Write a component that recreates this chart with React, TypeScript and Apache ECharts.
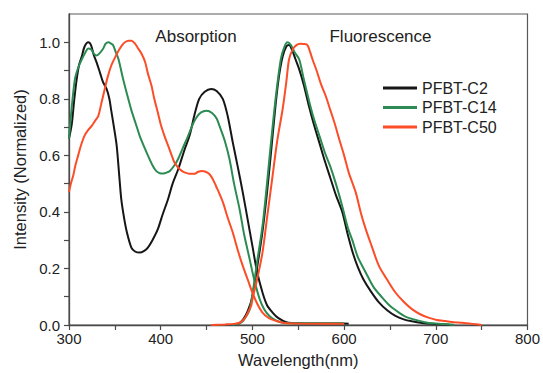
import React, { useEffect, useRef } from "react";
import * as echarts from "echarts";

const FONT = "'Liberation Sans', Arial, sans-serif";

const seriesNames = ["PFBT-C2", "PFBT-C14", "PFBT-C50"];
const seriesColors = ["#161616", "#2b8b52", "#fb4d27"];

const xTickLabels = [300, 400, 500, 600, 700, 800];
const xTicks = [300, 350, 400, 450, 500, 550, 600, 650, 700, 750, 800];
const yTickLabels = [0, 0.2, 0.4, 0.6, 0.8, 1.0];
const yTicks = [0, 0.1, 0.2, 0.3, 0.4, 0.5, 0.6, 0.7, 0.8, 0.9, 1.0];

// PFBT-C2 absorption
const c2AbsWl = [300, 303, 305.5, 308, 311, 314, 317, 321, 324, 327, 330, 334, 337, 341, 344, 346, 349, 352, 355, 357, 360, 363, 368, 372, 377, 382, 386, 391, 397, 402, 408, 413, 419, 426, 431.5, 437, 442, 448, 455, 461, 467.7, 473, 478.6, 484, 489.5, 495, 500, 505, 511, 516, 522, 528, 537, 550, 600, 605];
const c2AbsVal = [0.66, 0.71, 0.79, 0.86, 0.92, 0.95, 0.985, 1.0, 0.99, 0.955, 0.93, 0.89, 0.86, 0.835, 0.8, 0.76, 0.7, 0.634, 0.52, 0.445, 0.38, 0.33, 0.274, 0.26, 0.256, 0.262, 0.274, 0.3, 0.34, 0.39, 0.445, 0.5, 0.55, 0.62, 0.67, 0.745, 0.8, 0.825, 0.835, 0.828, 0.8, 0.74, 0.646, 0.56, 0.469, 0.37, 0.28, 0.19, 0.115, 0.07, 0.044, 0.025, 0.01, 0.006, 0.005, 0.004];

// PFBT-C2 fluorescence
const c2FlWl = [478, 485, 490, 495, 500, 505, 511, 516, 520, 525, 529, 533, 537, 540, 543, 547, 551, 556, 562, 567, 573, 579, 585, 591, 598, 604, 610, 615, 621, 629, 638, 647, 656, 665, 674, 685, 695, 715];
const c2FlVal = [0.0, 0.005, 0.02, 0.05, 0.1, 0.2, 0.33, 0.47, 0.6, 0.77, 0.88, 0.95, 0.985, 0.99, 0.975, 0.94, 0.905, 0.85, 0.77, 0.71, 0.645, 0.58, 0.52, 0.46, 0.4, 0.32, 0.25, 0.205, 0.162, 0.12, 0.08, 0.052, 0.032, 0.02, 0.013, 0.007, 0.004, 0.001];

// PFBT-C14 absorption
const c14AbsWl = [300, 303, 306.5, 310, 314, 318, 321, 324, 327, 330, 333, 337, 340, 343, 346, 348, 351, 354, 359, 363, 368, 373, 377, 382, 386, 391, 395, 399, 403, 407, 410, 415, 419, 424, 430, 435, 439, 444, 450, 456, 461, 464, 470, 475, 480, 486, 491, 497, 502, 508, 513, 518.5, 525, 533, 545, 598, 600];
const c14AbsVal = [0.66, 0.77, 0.87, 0.91, 0.94, 0.965, 0.978, 0.975, 0.96, 0.953, 0.96, 0.976, 0.995, 1.0, 0.995, 0.99, 0.965, 0.94, 0.87, 0.82, 0.76, 0.71, 0.67, 0.63, 0.6, 0.565, 0.545, 0.537, 0.536, 0.54, 0.545, 0.565, 0.587, 0.625, 0.67, 0.71, 0.734, 0.752, 0.758, 0.75, 0.73, 0.705, 0.65, 0.587, 0.5, 0.41, 0.32, 0.233, 0.16, 0.091, 0.055, 0.032, 0.017, 0.008, 0.006, 0.006, 0.004];

// PFBT-C14 fluorescence
const c14FlWl = [478, 485, 490, 494, 497, 500.3, 505, 511, 515, 518.5, 522, 526, 531, 535, 538.4, 542, 546, 551, 556, 562, 567, 573, 579, 585, 591, 598, 604, 609, 615, 623.6, 632, 641.6, 650, 659.8, 668, 678, 688, 696, 720];
const c14FlVal = [0.0, 0.005, 0.015, 0.035, 0.055, 0.115, 0.22, 0.35, 0.47, 0.587, 0.7, 0.82, 0.94, 0.985, 1.0, 0.99, 0.965, 0.94, 0.87, 0.79, 0.73, 0.67, 0.61, 0.56, 0.5, 0.42, 0.345, 0.3, 0.24, 0.186, 0.135, 0.097, 0.068, 0.044, 0.028, 0.018, 0.01, 0.006, 0.001];

// PFBT-C50 absorption
const c50AbsWl = [300, 302, 304.7, 307, 310, 313, 317, 321, 325, 328, 332, 335, 339, 342, 346, 350, 354, 358, 361, 365, 368, 372, 375, 379, 383, 386, 390, 393, 397, 400, 404, 408, 412, 415, 419, 423, 426, 431, 437, 441, 445, 449, 453, 457, 460.5, 464, 468, 473, 478.6, 484, 489.5, 495, 500, 505, 511, 518, 526, 535, 550, 600];
const c50AbsVal = [0.47, 0.5, 0.53, 0.565, 0.6, 0.635, 0.67, 0.69, 0.705, 0.72, 0.74, 0.78, 0.835, 0.875, 0.917, 0.945, 0.97, 0.99, 1.0, 1.005, 1.005, 0.995, 0.98, 0.96, 0.93, 0.89, 0.846, 0.8, 0.75, 0.71, 0.67, 0.635, 0.6, 0.575, 0.557, 0.545, 0.54, 0.535, 0.535, 0.542, 0.545, 0.542, 0.534, 0.515, 0.49, 0.465, 0.433, 0.38, 0.327, 0.265, 0.209, 0.16, 0.115, 0.077, 0.044, 0.024, 0.014, 0.007, 0.005, 0.004];

// PFBT-C50 fluorescence
const c50FlWl = [455, 470, 480, 486, 490, 493, 496, 498.6, 500, 505, 511, 516, 522, 527, 533, 537, 540, 544, 548, 552, 556, 560, 563, 565.5, 570, 575, 580, 585, 590, 594.6, 600, 605, 612.7, 618, 623.6, 630, 638, 647, 656, 665, 674, 683, 692, 701, 710.5, 720, 728.6, 740, 750];
const c50FlVal = [0.0, 0.002, 0.004, 0.008, 0.018, 0.03, 0.05, 0.067, 0.09, 0.16, 0.256, 0.38, 0.527, 0.65, 0.764, 0.86, 0.94, 0.975, 0.99, 0.995, 0.994, 0.99, 0.965, 0.94, 0.9, 0.85, 0.81, 0.76, 0.71, 0.658, 0.6, 0.54, 0.469, 0.4, 0.339, 0.28, 0.209, 0.16, 0.115, 0.082, 0.056, 0.038, 0.026, 0.018, 0.014, 0.01, 0.008, 0.004, 0.0];

const zip = (xs: number[], ys: number[]) => xs.map((x, i) => [x, ys[i]]);

const curves = [
  { idx: 0, wl: c2AbsWl, val: c2AbsVal },
  { idx: 0, wl: c2FlWl, val: c2FlVal },
  { idx: 1, wl: c14AbsWl, val: c14AbsVal },
  { idx: 1, wl: c14FlWl, val: c14FlVal },
  { idx: 2, wl: c50AbsWl, val: c50AbsVal },
  { idx: 2, wl: c50FlWl, val: c50FlVal },
];

export default function App() {
  const ref = useRef<HTMLDivElement>(null);
  useEffect(() => {
    if (!ref.current) return;
    const chart = echarts.init(ref.current, null, { renderer: "svg" });
    const axisColor = "#4a4a4a";
    const textColor = "#222";
    chart.setOption({
      animation: false,
      backgroundColor: "#ffffff",
      textStyle: { fontFamily: FONT },
      grid: {
        left: 69,
        right: 14,
        top: 14,
        bottom: 47,
        show: true,
        borderColor: "#5a5a5a",
        borderWidth: 1.2,
        backgroundColor: "transparent",
      },
      legend: {
        data: seriesNames,
        orient: "vertical",
        left: 383,
        top: 80,
        padding: 0,
        icon: "rect",
        itemWidth: 34,
        itemHeight: 3,
        itemGap: 3.5,
        textStyle: { fontFamily: FONT, fontSize: 16, color: textColor, lineHeight: 16 },
      },
      xAxis: {
        type: "value",
        min: 300,
        max: 800,
        interval: 50,
        name: "Wavelength(nm)",
        nameLocation: "middle",
        nameGap: 26,
        nameTextStyle: { fontFamily: FONT, fontSize: 16.5, color: textColor },
        axisLine: { show: true, onZero: false, lineStyle: { color: axisColor, width: 1.3 } },
        axisTick: { show: true, inside: false, length: 5, customValues: xTicks, lineStyle: { color: axisColor, width: 1.2 } },
        axisLabel: { customValues: xTickLabels, margin: 6, fontFamily: FONT, fontSize: 15, color: textColor },
        splitLine: { show: false },
      },
      yAxis: {
        type: "value",
        min: 0,
        max: 1.1,
        interval: 0.1,
        name: "Intensity (Normalized)",
        nameLocation: "middle",
        nameGap: 38,
        nameTextStyle: { fontFamily: FONT, fontSize: 16.5, color: textColor },
        axisLine: { show: true, onZero: false, lineStyle: { color: axisColor, width: 1.3 } },
        axisTick: { show: true, inside: false, length: 5, customValues: yTicks, lineStyle: { color: axisColor, width: 1.2 } },
        axisLabel: {
          customValues: yTickLabels,
          margin: 9,
          fontFamily: FONT,
          fontSize: 15,
          color: textColor,
          formatter: (v: number) => v.toFixed(1),
        },
        splitLine: { show: false },
      },
      graphic: [
        {
          type: "text",
          x: 196,
          y: 36,
          style: { text: "Absorption", fontFamily: FONT, fontSize: 17, fill: textColor, align: "center", verticalAlign: "middle" },
        },
        {
          type: "text",
          x: 380.5,
          y: 36,
          style: { text: "Fluorescence", fontFamily: FONT, fontSize: 17, fill: textColor, align: "center", verticalAlign: "middle" },
        },
      ],
      series: curves.map((c) => ({
        name: seriesNames[c.idx],
        type: "line",
        data: zip(c.wl, c.val),
        showSymbol: false,
        smooth: 0.3,
        color: seriesColors[c.idx],
        lineStyle: { color: seriesColors[c.idx], width: 2 },
        itemStyle: { color: seriesColors[c.idx] },
        z: 3 + c.idx,
      })),
    });
    return () => chart.dispose();
  }, []);
  return <div ref={ref} style={{ position: "fixed", left: 0, top: 0, width: 543, height: 373 }} />;
}
